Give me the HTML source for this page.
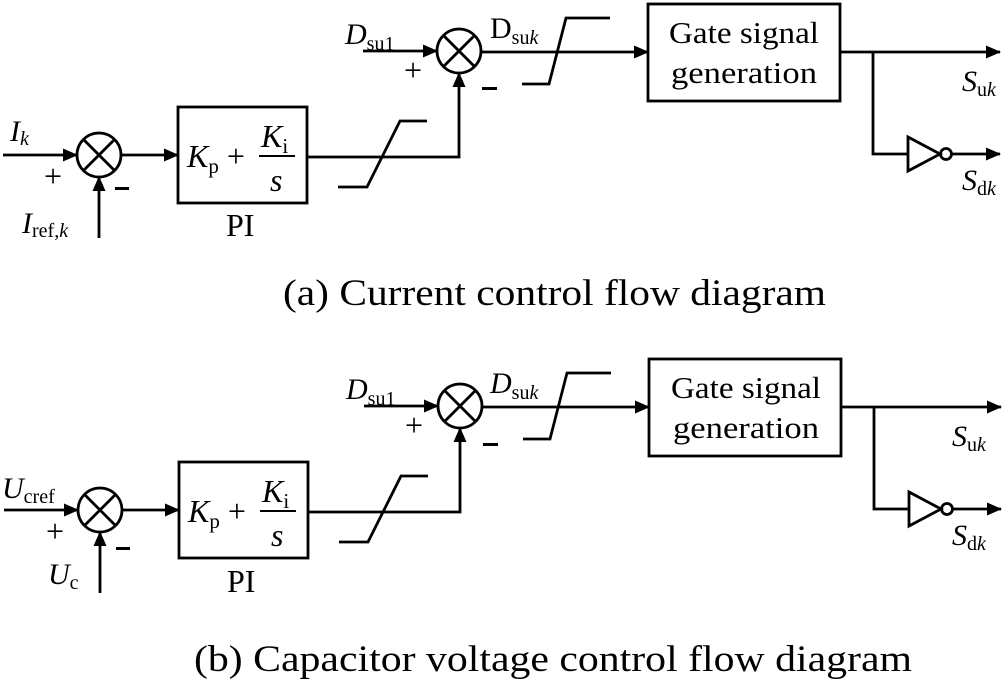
<!DOCTYPE html>
<html><head><meta charset="utf-8"><style>
html,body{margin:0;padding:0;background:#fff;}
svg{display:block;}
text{font-family:"Liberation Serif",serif;fill:#000;}
</style></head><body>
<svg width="1005" height="683" viewBox="0 0 1005 683" xmlns="http://www.w3.org/2000/svg">
<defs>
<marker id="a" markerWidth="16" markerHeight="14" refX="14" refY="6.5" orient="auto" markerUnits="userSpaceOnUse">
<path d="M0,0 L15,6.5 L0,13 Z" fill="#000"/>
</marker>
<g id="base" stroke="#000" stroke-width="2.8" fill="none">
  <circle cx="99" cy="155" r="22"/>
  <line x1="83.5" y1="139.5" x2="114.5" y2="170.5"/>
  <line x1="114.5" y1="139.5" x2="83.5" y2="170.5"/>
  <line x1="3" y1="155" x2="77" y2="155" marker-end="url(#a)"/>
  <line x1="99" y1="238" x2="99" y2="177" marker-end="url(#a)"/>
  <line x1="121" y1="155" x2="178" y2="155" marker-end="url(#a)"/>
  <rect x="178" y="107" width="129" height="96"/>
  <line x1="259" y1="156" x2="295" y2="156" stroke-width="2"/>
  <polyline points="307,157 459,157 459,100" />
  <line x1="459" y1="100" x2="459" y2="73" marker-end="url(#a)"/>
  <polyline points="338,187 367,187 400,121 427,121"/>
  <circle cx="459" cy="51" r="22"/>
  <line x1="443.5" y1="35.5" x2="474.5" y2="66.5"/>
  <line x1="474.5" y1="35.5" x2="443.5" y2="66.5"/>
  <line x1="363" y1="51" x2="437" y2="51" marker-end="url(#a)"/>
  <line x1="481" y1="52" x2="648" y2="52" marker-end="url(#a)"/>
  <polyline points="522,84 549,84 566,18 610,18"/>
  <rect x="648" y="4" width="192" height="97"/>
  <line x1="840" y1="52" x2="1000" y2="52" marker-end="url(#a)"/>
  <polyline points="873,52 873,154 908,154"/>
  <polygon points="908,137 908,171 940,154"/>
  <circle cx="946" cy="154" r="5.5"/>
  <line x1="951" y1="154" x2="1000" y2="154" marker-end="url(#a)"/>
</g>
</defs>

<use href="#base"/>
<use href="#base" transform="translate(1,355)"/>

<g font-size="30">
  <text x="10" y="141" font-style="italic">I<tspan font-size="20" dy="4">k</tspan></text>
  <text x="44" y="187" font-size="32">+</text>
  <rect x="115" y="187" width="14" height="3" fill="#000"/>
  <text x="22" y="233" font-style="italic">I<tspan font-size="20" dy="4" font-style="normal">ref,</tspan><tspan font-size="20" font-style="italic">k</tspan></text>
  <text x="187" y="167" font-style="italic" font-size="32">K<tspan font-size="21" dy="6" font-style="normal">p</tspan><tspan dy="-6" font-style="normal"> +</tspan></text>
  <text x="261" y="147" font-style="italic" font-size="32">K<tspan font-size="21" dy="6" font-style="normal">i</tspan></text>
  <text x="270" y="191" font-style="italic" font-size="32">s</text>
  <text x="226" y="236" font-size="32">PI</text>
  <text x="345" y="44" font-style="italic">D<tspan font-size="20" dy="6" font-style="normal">su1</tspan></text>
  <text x="404" y="81" font-size="32">+</text>
  <rect x="482" y="87" width="15" height="3" fill="#000"/>
  <text x="490" y="38">D<tspan font-size="20" dy="6">su</tspan><tspan font-size="20" font-style="italic">k</tspan></text>
  <text x="744" y="43" text-anchor="middle" font-size="31" textLength="150" lengthAdjust="spacingAndGlyphs">Gate signal</text>
  <text x="744" y="83" text-anchor="middle" font-size="31" textLength="146" lengthAdjust="spacingAndGlyphs">generation</text>
  <text x="962" y="91" font-style="italic">S<tspan font-size="20" dy="5" font-style="normal">u</tspan><tspan font-size="20">k</tspan></text>
  <text x="962" y="190" font-style="italic">S<tspan font-size="20" dy="5" font-style="normal">d</tspan><tspan font-size="20">k</tspan></text>
  <text x="283" y="305" font-size="37" textLength="543" lengthAdjust="spacingAndGlyphs">(a) Current control flow diagram</text>

  <text x="2" y="498" font-style="italic">U<tspan font-size="20" dy="5" font-style="normal">cref</tspan></text>
  <text x="46" y="542" font-size="32">+</text>
  <rect x="116" y="547" width="14" height="3" fill="#000"/>
  <text x="48" y="584" font-style="italic">U<tspan font-size="20" dy="5" font-style="normal">c</tspan></text>
  <text x="188" y="522" font-style="italic" font-size="32">K<tspan font-size="21" dy="6" font-style="normal">p</tspan><tspan dy="-6" font-style="normal"> +</tspan></text>
  <text x="262" y="502" font-style="italic" font-size="32">K<tspan font-size="21" dy="6" font-style="normal">i</tspan></text>
  <text x="271" y="546" font-style="italic" font-size="32">s</text>
  <text x="227" y="592" font-size="32">PI</text>
  <text x="346" y="399" font-style="italic">D<tspan font-size="20" dy="6" font-style="normal">su1</tspan></text>
  <text x="405" y="436" font-size="32">+</text>
  <rect x="483" y="443" width="15" height="3" fill="#000"/>
  <text x="490" y="393" font-style="italic">D<tspan font-size="20" dy="6" font-style="normal">su</tspan><tspan font-size="20">k</tspan></text>
  <text x="746" y="398" text-anchor="middle" font-size="31" textLength="150" lengthAdjust="spacingAndGlyphs">Gate signal</text>
  <text x="746" y="438" text-anchor="middle" font-size="31" textLength="146" lengthAdjust="spacingAndGlyphs">generation</text>
  <text x="952" y="446" font-style="italic">S<tspan font-size="20" dy="5" font-style="normal">u</tspan><tspan font-size="20">k</tspan></text>
  <text x="952" y="545" font-style="italic">S<tspan font-size="20" dy="5" font-style="normal">d</tspan><tspan font-size="20">k</tspan></text>
  <text x="194" y="671" font-size="37" textLength="718" lengthAdjust="spacingAndGlyphs">(b) Capacitor voltage control flow diagram</text>
</g>
</svg>
</body></html>
